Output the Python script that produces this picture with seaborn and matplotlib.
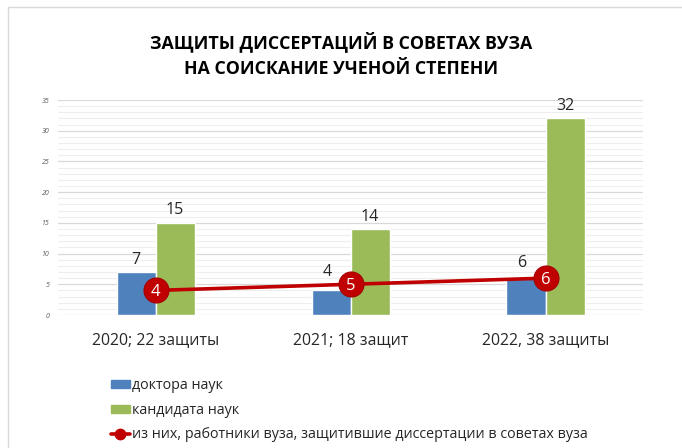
import matplotlib
matplotlib.use('Agg')
import matplotlib.pyplot as plt
import pandas as pd
import seaborn as sns
from matplotlib.patches import Rectangle
from matplotlib.lines import Line2D
from matplotlib.ticker import MultipleLocator

# Data
years = ['2020; 22 защиты', '2021; 18 защит', '2022, 38 защиты']
doctors = [7, 4, 6]
candidates = [15, 14, 32]
staff = [4, 5, 6]
series_names = ['доктора наук', 'кандидата наук']
line_name = 'из них, работники вуза, защитившие диссертации в советах вуза'
title = 'ЗАЩИТЫ ДИССЕРТАЦИЙ В СОВЕТАХ ВУЗА\nНА СОИСКАНИЕ УЧЕНОЙ СТЕПЕНИ'

df = pd.DataFrame({
    'year': years * 2,
    'value': doctors + candidates,
    'type': [series_names[0]] * 3 + [series_names[1]] * 3,
})
df_line = pd.DataFrame({'year': years, 'value': staff})

blue, green, red = '#4F81BD', '#9BBB59', '#C00000'

sns.set_theme(style='white')
plt.rcParams['font.family'] = ['Open Sans', 'DejaVu Sans']

fig = plt.figure(figsize=(6.82, 4.48), dpi=100)
ax = fig.add_axes([58 / 682, 1 - 315 / 448, (643 - 58) / 682, 215 / 448])

sns.barplot(data=df, x='year', y='value', hue='type', palette=[blue, green],
            width=0.4, ax=ax, legend=False, saturation=1)
sns.pointplot(data=df_line, x='year', y='value', color=red, ax=ax,
              markers='o', markersize=18, linewidth=2.6, zorder=5,
              markeredgecolor='#A50000', markeredgewidth=0.8)

# bar value labels (offsets in points)
offsets = [[(0, 9), (-3, 13), (-3, 11)], [(0, 9), (0, 9), (0, 9)]]
for cont, offs in zip(ax.containers[:2], offsets):
    for bar, (dx, dy) in zip(cont, offs):
        h = bar.get_height()
        ax.annotate(f'{h:g}', (bar.get_x() + bar.get_width() / 2, h),
                    xytext=(dx, dy), textcoords='offset points',
                    ha='center', va='center', fontsize=11.5, color='#262626')

# labels inside line markers
for i, v in enumerate(staff):
    ax.text(i, v, str(v), ha='center', va='center_baseline', color='white',
            fontsize=12, zorder=6)

ax.set_xlim(-0.5, 2.5)
ax.set_ylim(0, 35)
ax.yaxis.set_major_locator(MultipleLocator(5))
ax.yaxis.set_minor_locator(MultipleLocator(1))
ax.grid(axis='y', which='major', color='#D9D9D9', linewidth=0.9)
ax.grid(axis='y', which='minor', color='#EEEEEE', linewidth=0.8)
ax.set_axisbelow(True)
for s in ax.spines.values():
    s.set_visible(False)
ax.set_xlabel('')
ax.set_ylabel('')
ax.tick_params(axis='y', labelsize=5, colors='#595959', length=0, pad=6)
for lab in ax.get_yticklabels():
    lab.set_fontstyle('italic')
ax.tick_params(axis='x', labelsize=11.4, colors='#262626', length=0, pad=12)

fig.text(0.5, 1 - 55 / 448, title, ha='center', va='center', fontsize=12.8,
         fontweight='bold', color='black', linespacing=1.55)

# chart frame
fig.patches.append(Rectangle((8 / 682, -0.1), 1.1, 1.1 - 7 / 448,
                             transform=fig.transFigure, fill=False,
                             edgecolor='#D9D9D9', linewidth=1))

handles = [Rectangle((0, 0), 1, 1, color=blue),
           Rectangle((0, 0), 1, 1, color=green),
           Line2D([], [], color=red, linewidth=2.6, marker='o', markersize=7.5)]
fig.legend(handles, series_names + [line_name], loc='upper left',
           bbox_to_anchor=(104 / 682, 1 - 371 / 448), frameon=False,
           fontsize=10.3, handlelength=1.3, handleheight=0.5, handletextpad=0.15,
           labelspacing=0.67, borderpad=0, labelcolor='#262626')

fig.savefig('out.png', dpi=100)
